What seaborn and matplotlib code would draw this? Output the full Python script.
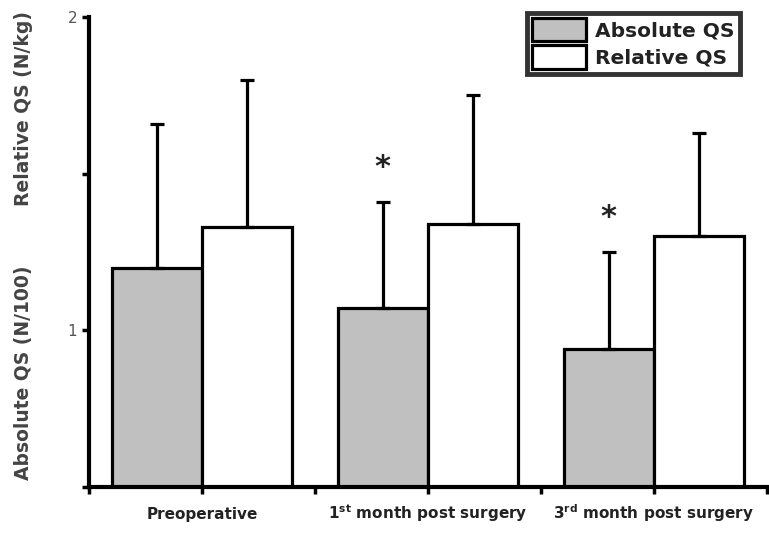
import numpy as np
import pandas as pd
import matplotlib
matplotlib.use("Agg")
import matplotlib.pyplot as plt
import seaborn as sns
from matplotlib.ticker import FixedLocator

sns.set_style("ticks")
plt.rcParams['font.family'] = ['DejaVu Sans']
plt.rcParams['mathtext.fontset'] = 'dejavusans'

# values
stages = ["Preoperative", r"1$^{\mathbf{st}}$ month post surgery",
          r"3$^{\mathbf{rd}}$ month post surgery"]
series = ["Absolute QS", "Relative QS"]
absolute_mean = [1.20, 1.07, 0.94]
absolute_top = [1.66, 1.41, 1.25]
relative_mean = [1.33, 1.34, 1.30]
relative_top = [1.80, 1.75, 1.63]
significant = [False, True, True]

df = pd.DataFrame({
    "stage": stages * 2,
    "group": [series[0]] * 3 + [series[1]] * 3,
    "value": absolute_mean + relative_mean,
})

fig = plt.figure(figsize=(7.69, 5.34), dpi=100)
ax = fig.add_axes([89 / 769, 47 / 534, 678 / 769, 470 / 534])

sns.barplot(data=df, x="stage", y="value", hue="group", order=stages,
            hue_order=series, palette=["#c0c0c0", "white"], edgecolor="black",
            linewidth=2.3, errorbar=None, width=0.8, ax=ax, saturation=1)

tops = [absolute_top, relative_top]
for cont, top in zip(ax.containers, tops):
    xs = [b.get_x() + b.get_width() / 2 for b in cont]
    hs = [b.get_height() for b in cont]
    err = np.array(top) - np.array(hs)
    ax.errorbar(xs, hs, yerr=[np.zeros(3), err], fmt="none", ecolor="black",
                elinewidth=2.3, capsize=5, capthick=2.3, zorder=1)

abs_bars = ax.containers[0]
for b, top, sig in zip(abs_bars, absolute_top, significant):
    if sig:
        ax.annotate("*", (b.get_x() + b.get_width() / 2, top), xytext=(0, 25),
                    textcoords="offset points", ha="center", va="center",
                    fontsize=22, fontweight="bold", color="#222222")

ax.set_xlim(-0.5, 2.5)
ax.set_ylim(0.5, 2.0)
ax.set_yticks([1, 2])
ax.set_yticklabels(["1", "2"], color="#555555", fontsize=11)
ax.yaxis.set_minor_locator(FixedLocator([0.5, 1.5]))
ax.xaxis.set_minor_locator(FixedLocator([-0.5, 0.5, 1.5, 2.5]))
ax.set_xticks([0, 1, 2])
ax.set_xticklabels(stages, fontsize=11, fontweight="bold", color="#222222")
ax.tick_params(which="both", direction="out", length=5, width=2.5, color="black")
ax.tick_params(axis="x", which="major", pad=18)
for lab in ax.get_xticklabels():
    lab.set_verticalalignment("baseline")
ax.set_xlabel("")
ax.set_ylabel("")

for s in ["top", "right"]:
    ax.spines[s].set_visible(False)
for s in ["left", "bottom"]:
    ax.spines[s].set_linewidth(3)
    ax.spines[s].set_color("black")

fig.text(0.03, (534 - 373) / 534, "Absolute QS (N/100)", rotation=90,
         ha="center", va="center", fontsize=13.5, fontweight="bold", color="#444444")
fig.text(0.03, (534 - 108) / 534, "Relative QS (N/kg)", rotation=90,
         ha="center", va="center", fontsize=13.5, fontweight="bold", color="#444444")

leg = ax.legend(loc="upper right", bbox_to_anchor=((740 - 89) / 678, (487 - 13) / 470),
                frameon=True, fancybox=False, fontsize=14.5, handlelength=2.7,
                handleheight=1.4, handletextpad=0.45, labelspacing=0.2,
                borderpad=0.25, borderaxespad=0)
leg.get_frame().set_edgecolor("black")
leg.get_frame().set_linewidth(3.5)
for t in leg.get_texts():
    t.set_fontweight("bold")
    t.set_color("#222222")

fig.savefig("out.png", dpi=100)
